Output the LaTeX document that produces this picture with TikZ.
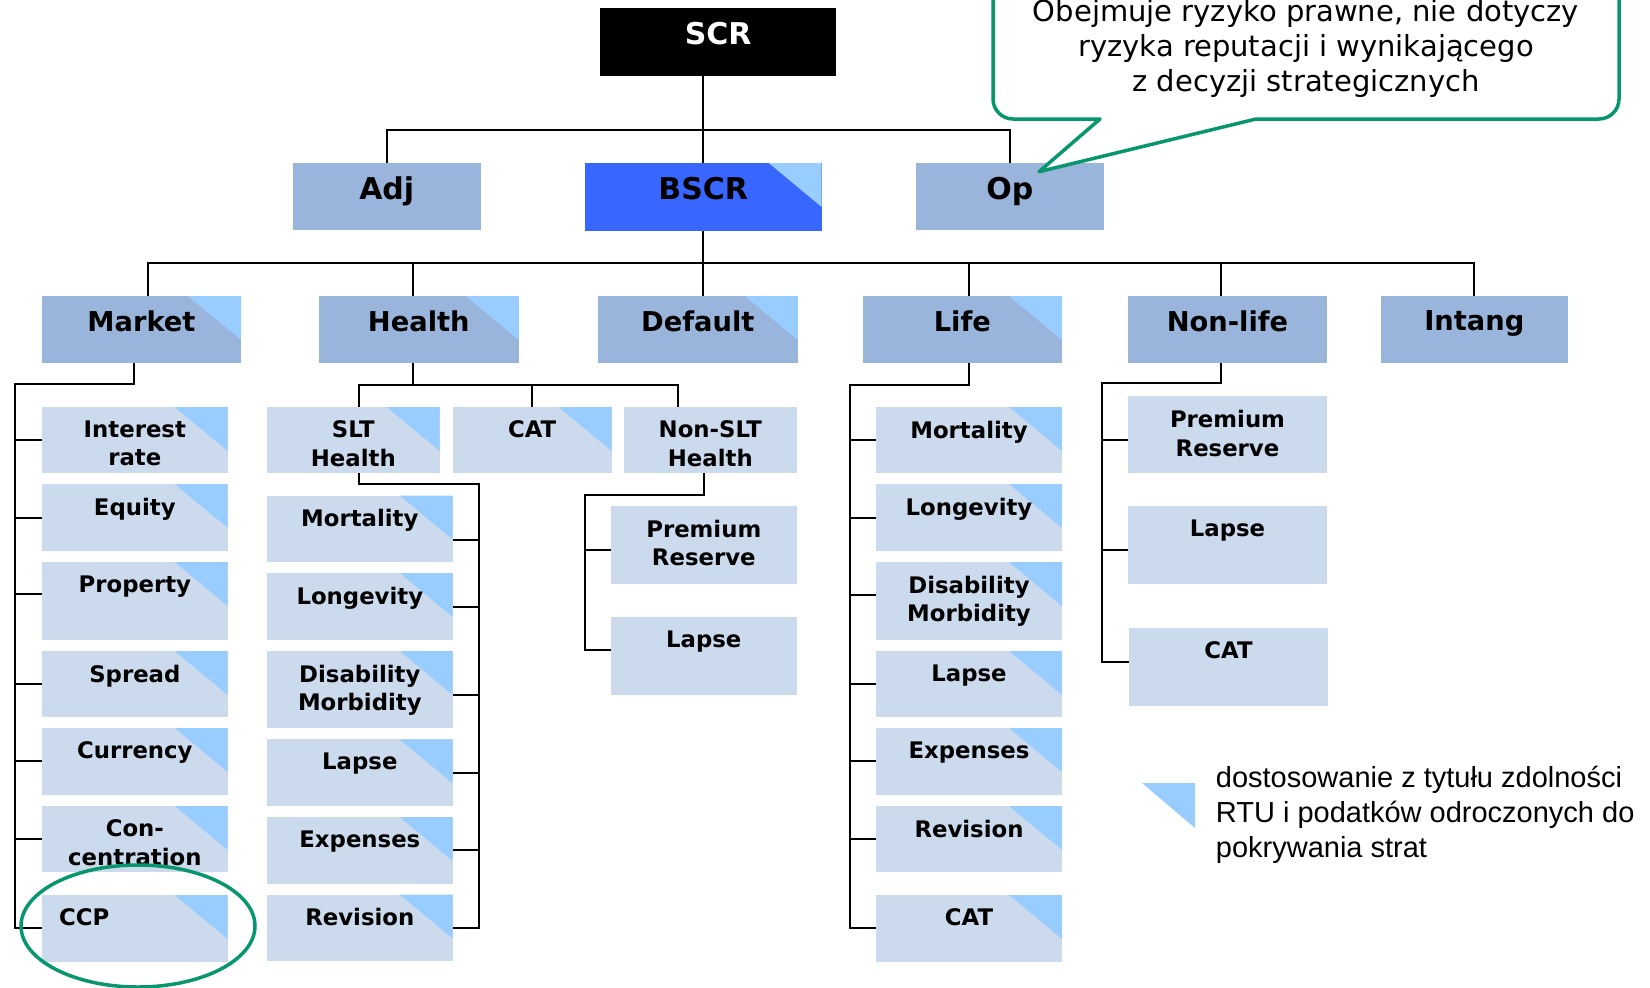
\documentclass[tikz,border=0pt]{standalone}
\usepackage{fontspec}
\setmainfont{DejaVu Sans}
\newfontfamily\legendfont{Liberation Sans}

\definecolor{lvlfill}{RGB}{153,181,219}
\definecolor{subfill}{RGB}{204,218,237}
\definecolor{tricol}{RGB}{153,204,255}
\definecolor{bscrblue}{RGB}{56,103,255}
\definecolor{notegreen}{RGB}{8,150,110}

% box: name, box style, text style, left x, top y, width, height, label
\newcommand\riskbox[8]{%
  \node[#2, minimum width=#6pt, minimum height=#7pt] (#1) at (#4,#5) {};
  \node[#3] (#1-t) at (#1.north) {#8};
}

\begin{document}
\begin{tikzpicture}[x=1pt,y=-1pt,
  box/.style={anchor=north west, inner sep=0pt, outer sep=0pt, draw=none},
  lvl/.style={box, fill=lvlfill},
  sub/.style={box, fill=subfill},
  corner/.style={path picture={\fill[tricol]
      ([xshift=-53pt]path picture bounding box.north east) --
      (path picture bounding box.north east) --
      ([yshift=-44pt]path picture bounding box.north east) -- cycle;}},
  txt/.style={anchor=north, inner sep=0pt, align=center},
  toptxt/.style={txt, yshift=-13.6pt, font=\bfseries\fontsize{30}{36}\selectfont},
  lvltxt/.style={txt, yshift=-14.5pt, font=\bfseries\fontsize{27.3}{33}\selectfont},
  subtxt/.style={txt, yshift=-13.7pt, font=\bfseries\fontsize{22.8}{28.3}\selectfont},
  wire/.style={line width=2pt, line join=miter},
]
\useasboundingbox (0,0) rectangle (1650,988);
\clip (0,0) rectangle (1650,988);

% ---------- top levels ----------
\riskbox{SCR}{box,fill=black}{toptxt,text=white}{600}{8.3}{236.3}{67.4}{SCR}
\riskbox{Adj}{lvl}{toptxt}{292.7}{163}{188.1}{66.7}{Adj}
\riskbox{BSCR}{box,fill=bscrblue,corner}{toptxt}{584.8}{163}{236.9}{67.7}{BSCR}
\riskbox{Op}{lvl}{toptxt}{915.8}{163}{188.2}{66.7}{Op}

\riskbox{Market}{lvl,corner}{lvltxt}{42}{296}{199}{66.7}{Market}
\riskbox{Health}{lvl,corner}{lvltxt}{318.8}{296}{200}{66.7}{Health}
\riskbox{Default}{lvl,corner}{lvltxt}{597.8}{296}{200}{66.7}{Default}
\riskbox{Life}{lvl,corner}{lvltxt}{862.8}{296}{199.2}{66.7}{Life}
\riskbox{NonLife}{lvl}{lvltxt}{1128}{296}{199}{66.7}{Non-life}
\riskbox{Intang}{lvl}{lvltxt}{1380.6}{296}{187.4}{66.7}{Intang}

% ---------- market ----------
\riskbox{IR}{sub,corner}{subtxt}{42}{407}{185.7}{66}{Interest\\rate}
\riskbox{Eq}{sub,corner}{subtxt}{42}{484}{185.7}{67}{Equity}
\riskbox{Prop}{sub,corner}{subtxt}{42}{562}{185.7}{78}{Property}
\riskbox{Spr}{sub,corner}{subtxt}{42}{651}{185.7}{66}{Spread}
\riskbox{Cur}{sub,corner}{subtxt}{42}{728}{185.7}{66.5}{Currency}
\riskbox{Con}{sub,corner}{subtxt}{42}{806}{185.7}{66}{Con-\\centration}
\node[sub,corner,minimum width=185.7pt,minimum height=66.6pt] (CCP) at (42,895) {};
\node[subtxt,anchor=north west] (CCP-t) at ([xshift=17pt]CCP.north west) {CCP};

% ---------- health ----------
\riskbox{SLT}{sub,corner}{subtxt}{267}{407}{172.7}{66}{SLT\\Health}
\riskbox{HCAT}{sub,corner}{subtxt}{452.5}{407}{159.2}{66}{CAT}
\riskbox{NSLT}{sub}{subtxt}{624}{407}{172.6}{66}{Non-SLT\\Health}

\riskbox{SMort}{sub,corner}{subtxt}{267}{495.5}{185.7}{66}{Mortality}
\riskbox{SLong}{sub,corner}{subtxt}{267}{573}{185.7}{67}{Longevity}
\riskbox{SDis}{sub,corner}{subtxt}{267}{651}{185.7}{77}{Disability\\Morbidity}
\riskbox{SLap}{sub,corner}{subtxt}{267}{739.4}{185.7}{66.3}{Lapse}
\riskbox{SExp}{sub,corner}{subtxt}{267}{817}{185.7}{66.7}{Expenses}
\riskbox{SRev}{sub,corner}{subtxt}{267}{894.5}{185.7}{66}{Revision}

\riskbox{NPR}{sub}{subtxt}{611}{506}{185.6}{77.6}{Premium\\Reserve}
\riskbox{NLap}{sub}{subtxt}{611}{617}{185.6}{77.5}{Lapse}

% ---------- life ----------
\riskbox{LMort}{sub,corner}{subtxt}{876}{407}{186}{66}{Mortality}
\riskbox{LLong}{sub,corner}{subtxt}{876}{484}{186}{67}{Longevity}
\riskbox{LDis}{sub,corner}{subtxt}{876}{562}{186}{78}{Disability\\Morbidity}
\riskbox{LLap}{sub,corner}{subtxt}{876}{651}{186}{66}{Lapse}
\riskbox{LExp}{sub,corner}{subtxt}{876}{728}{186}{66.5}{Expenses}
\riskbox{LRev}{sub,corner}{subtxt}{876}{806}{186}{66}{Revision}
\riskbox{LCAT}{sub,corner}{subtxt}{876}{895}{186}{66.6}{CAT}

% ---------- non-life ----------
\riskbox{GPR}{sub}{subtxt,yshift=-1pt}{1128}{395.5}{199}{77.5}{Premium\\Reserve}
\riskbox{GLap}{sub}{subtxt}{1128}{506}{199}{77.6}{Lapse}
\riskbox{GCAT}{sub}{subtxt}{1129}{628}{199}{77.7}{CAT}

% ---------- connectors ----------
\coordinate (b1) at (0,129.7);
\coordinate (b2) at (0,263);
\draw[wire] (SCR.south -| BSCR.north) -- (BSCR.north);
\draw[wire] (Adj.north) -- (Adj.north |- b1) -- (Op.north |- b1) -- (Op.north);
\draw[wire] (BSCR.south) -- (BSCR.south |- Default.north);

\coordinate (mkx) at ([xshift=6pt]Market.north);
\coordinate (hex) at ([xshift=-6pt]Health.north);
\coordinate (lfx) at ([xshift=6.5pt]Life.north);
\coordinate (nlx) at ([xshift=-6.5pt]NonLife.north);
\draw[wire] (mkx) -- (mkx |- b2) -- (Intang.north |- b2) -- (Intang.north);
\foreach \c in {hex,lfx,nlx} \draw[wire] (\c) -- (\c |- b2);

% market tree
\coordinate (mkd) at ([xshift=-8pt]Market.south);
\coordinate (mkt) at (15,384);
\coordinate (propw) at ([yshift=7pt]Prop.west);
\draw[wire] (mkd) |- (mkt) -- (mkt |- CCP.west) -- (CCP.west);
\foreach \c in {IR,Eq,Spr,Cur,Con} \draw[wire] (mkt |- \c.west) -- (\c.west);
\draw[wire] (mkt |- propw) -- (propw);

% health tree
\coordinate (hed) at ([xshift=-6pt]Health.south);
\coordinate (hb) at (0,384.7);
\coordinate (sltx) at ([xshift=6pt]SLT.north);
\coordinate (nsx) at ([xshift=-32pt]NSLT.north);
\draw[wire] (hed) -- (hed |- hb);
\draw[wire] (sltx) -- (sltx |- hb) -- (nsx |- hb) -- (nsx);
\draw[wire] (HCAT.north |- hb) -- (HCAT.north);

\coordinate (sltd) at ([xshift=6pt]SLT.south);
\coordinate (sltt) at (478.7,483.5);
\coordinate (smorte) at ([yshift=-11pt]SMort.east);
\coordinate (sdise) at ([yshift=-5pt]SDis.east);
\draw[wire] (sltd) |- (sltt) -- (sltt |- SRev.east) -- (SRev.east);
\foreach \c in {smorte,sdise,SLong.east,SLap.east,SExp.east} \draw[wire] (sltt |- \c) -- (\c);

\coordinate (nsd) at ([xshift=-6pt]NSLT.south);
\coordinate (nst) at (585,494.8);
\coordinate (nprw) at ([yshift=-5pt]NPR.west);
\coordinate (nlaw) at ([yshift=6pt]NLap.west);
\draw[wire] (nsd) |- (nst) -- (nst |- nlaw) -- (nlaw);
\draw[wire] (nst |- nprw) -- (nprw);

% life tree
\coordinate (lfd) at ([xshift=6.5pt]Life.south);
\coordinate (lft) at (849.8,384.7);
\coordinate (ldisw) at ([yshift=6pt]LDis.west);
\draw[wire] (lfd) |- (lft) -- (lft |- LCAT.west) -- (LCAT.west);
\foreach \c in {LMort.west,LLong.west,ldisw,LLap.west,LExp.west,LRev.west} \draw[wire] (lft |- \c) -- (\c);

% non-life tree
\coordinate (nld) at ([xshift=-6.5pt]NonLife.south);
\coordinate (nlt) at (1102,383);
\coordinate (gprw) at ([yshift=-6pt]GPR.west);
\coordinate (glapw) at ([yshift=-5.6pt]GLap.west);
\coordinate (gcatw) at ([yshift=5pt]GCAT.west);
\draw[wire] (nld) |- (nlt) -- (nlt |- gcatw) -- (gcatw);
\foreach \c in {gprw,glapw} \draw[wire] (nlt |- \c) -- (\c);

% ---------- highlight around CCP ----------
\draw[notegreen, line width=3.5pt] (138,926) ellipse [x radius=117pt, y radius=61pt];

% ---------- speech bubble for Op ----------
\filldraw[draw=notegreen, fill=white, line width=3.5pt, line join=round]
  (993,-40) -- (993,99) .. controls (993,110) and (1002,119) .. (1013,119)
  -- (1100,119) -- (1039,171.7) -- (1256,119) -- (1599,119)
  .. controls (1610,119) and (1619,110) .. (1619,99) -- (1619,-40) -- cycle;
\node[anchor=south, inner sep=0pt, align=center, font=\fontsize{29}{35}\selectfont] (note)
  at (1306,97.6) {Obejmuje ryzyko prawne, nie dotyczy\\ryzyka reputacji i wynikającego\\z decyzji strategicznych};

% ---------- legend ----------
\coordinate (legtri) at (1195,783);
\fill[tricol] ([xshift=-53pt]legtri) -- (legtri) -- ([yshift=-45pt]legtri) -- cycle;
\node[anchor=north west, inner sep=0pt, align=left, font=\legendfont\fontsize{29}{35}\selectfont] (legend)
  at (1215.7,766) {dostosowanie z tytułu zdolności\\RTU i podatków odroczonych do\\pokrywania strat};
\end{tikzpicture}
\end{document}
